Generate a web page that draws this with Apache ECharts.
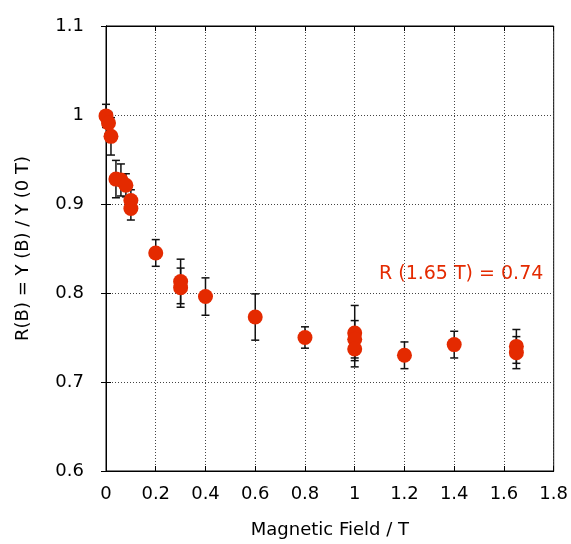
<!DOCTYPE html>
<html>
<head>
<meta charset="utf-8">
<script src="https://cdn.jsdelivr.net/npm/echarts@6/dist/echarts.min.js"></script>
<style>
  html, body { margin: 0; padding: 0; background: #fff; }
  #main { width: 571px; height: 544px; }
</style>
</head>
<body>
<div id="main"></div>
<script>
// magnetic field (T) of each measurement
const fieldT = [0, 0.01, 0.02, 0.04, 0.06, 0.08, 0.1, 0.1, 0.2, 0.3, 0.3, 0.4, 0.6, 0.8, 1.0, 1.0, 1.0, 1.2, 1.4, 1.65, 1.65];
// R(B) = Y(B) / Y(0T)
const ratio = [0.999, 0.991, 0.976, 0.928, 0.927, 0.921, 0.904, 0.895, 0.845, 0.813, 0.806, 0.796, 0.773, 0.750, 0.755, 0.748, 0.737, 0.730, 0.742, 0.740, 0.733];
// error (+/-)
const ratioErr = [0.013, 0.012, 0.021, 0.021, 0.018, 0.013, 0.012, 0.013, 0.015, 0.025, 0.022, 0.021, 0.026, 0.012, 0.031, 0.021, 0.020, 0.015, 0.015, 0.019, 0.018];

const xTicks = [0, 0.2, 0.4, 0.6, 0.8, 1, 1.2, 1.4, 1.6, 1.8];
const yTicks = [0.6, 0.7, 0.8, 0.9, 1, 1.1];

const font = 'DejaVu Sans';
const red = '#e42a00';

const points = fieldT.map((x, i) => [x, ratio[i]]);
const bars = fieldT.map((x, i) => [x, ratio[i] - ratioErr[i], ratio[i] + ratioErr[i]]);

const chart = echarts.init(document.getElementById('main'));

const gridLine = { show: true, lineStyle: { color: '#444', width: 1, type: [1, 2] } };

const option = {
  backgroundColor: '#fff',
  animation: false,
  grid: { left: 106, top: 26, width: 448, height: 448, show: true, borderColor: '#000', borderWidth: 1 },
  xAxis: [{
    type: 'value',
    min: xTicks[0], max: xTicks[xTicks.length - 1], interval: 0.2,
    axisLine: { lineStyle: { color: '#000' } },
    axisTick: { inside: true, length: 5, lineStyle: { color: '#000' } },
    axisLabel: { color: '#000', fontFamily: font, fontSize: 18, margin: 14 },
    splitLine: gridLine,
    name: 'Magnetic Field / T',
    nameLocation: 'middle',
    nameGap: 50,
    nameTextStyle: { color: '#000', fontFamily: font, fontSize: 18 }
  }, {
    type: 'value', position: 'top',
    min: xTicks[0], max: xTicks[xTicks.length - 1], interval: 0.2,
    axisLine: { lineStyle: { color: '#000' } },
    axisTick: { inside: true, length: 5, lineStyle: { color: '#000' } },
    axisLabel: { show: false }, splitLine: { show: false }
  }],
  yAxis: [{
    type: 'value',
    min: yTicks[0], max: yTicks[yTicks.length - 1], interval: 0.1,
    axisLine: { show: true, lineStyle: { color: '#000' } },
    axisTick: { show: true, inside: true, length: 5, lineStyle: { color: '#000' } },
    axisLabel: { color: '#000', fontFamily: font, fontSize: 18, margin: 22 },
    splitLine: gridLine,
    name: 'R(B) = Y (B) / Y (0 T)',
    nameLocation: 'middle',
    nameGap: 74,
    nameTextStyle: { color: '#000', fontFamily: font, fontSize: 18 }
  }, {
    type: 'value', position: 'right',
    min: yTicks[0], max: yTicks[yTicks.length - 1], interval: 0.1,
    axisLine: { show: true, lineStyle: { color: '#000' } },
    axisTick: { show: true, inside: true, length: 5, lineStyle: { color: '#000' } },
    axisLabel: { show: false }, splitLine: { show: false }
  }],
  series: [{
    type: 'custom',
    data: bars,
    z: 2,
    renderItem: function (params, api) {
      const x = api.value(0);
      const lo = api.coord([x, api.value(1)]);
      const hi = api.coord([x, api.value(2)]);
      const w = 4;
      const style = { stroke: '#111', lineWidth: 1.5 };
      return {
        type: 'group',
        children: [
          { type: 'line', shape: { x1: lo[0], y1: lo[1], x2: hi[0], y2: hi[1] }, style: style },
          { type: 'line', shape: { x1: lo[0] - w, y1: lo[1], x2: lo[0] + w, y2: lo[1] }, style: style },
          { type: 'line', shape: { x1: hi[0] - w, y1: hi[1], x2: hi[0] + w, y2: hi[1] }, style: style }
        ]
      };
    }
  }, {
    type: 'scatter',
    data: points,
    z: 3,
    symbol: 'circle',
    symbolSize: 15,
    itemStyle: { color: red, opacity: 1 }
  }],
  graphic: [{
    type: 'text',
    left: 379,
    top: 265,
    style: { text: 'R (1.65 T) = 0.74', fill: red, font: '19px "DejaVu Sans"' }
  }]
};

chart.setOption(option);
</script>
</body>
</html>
